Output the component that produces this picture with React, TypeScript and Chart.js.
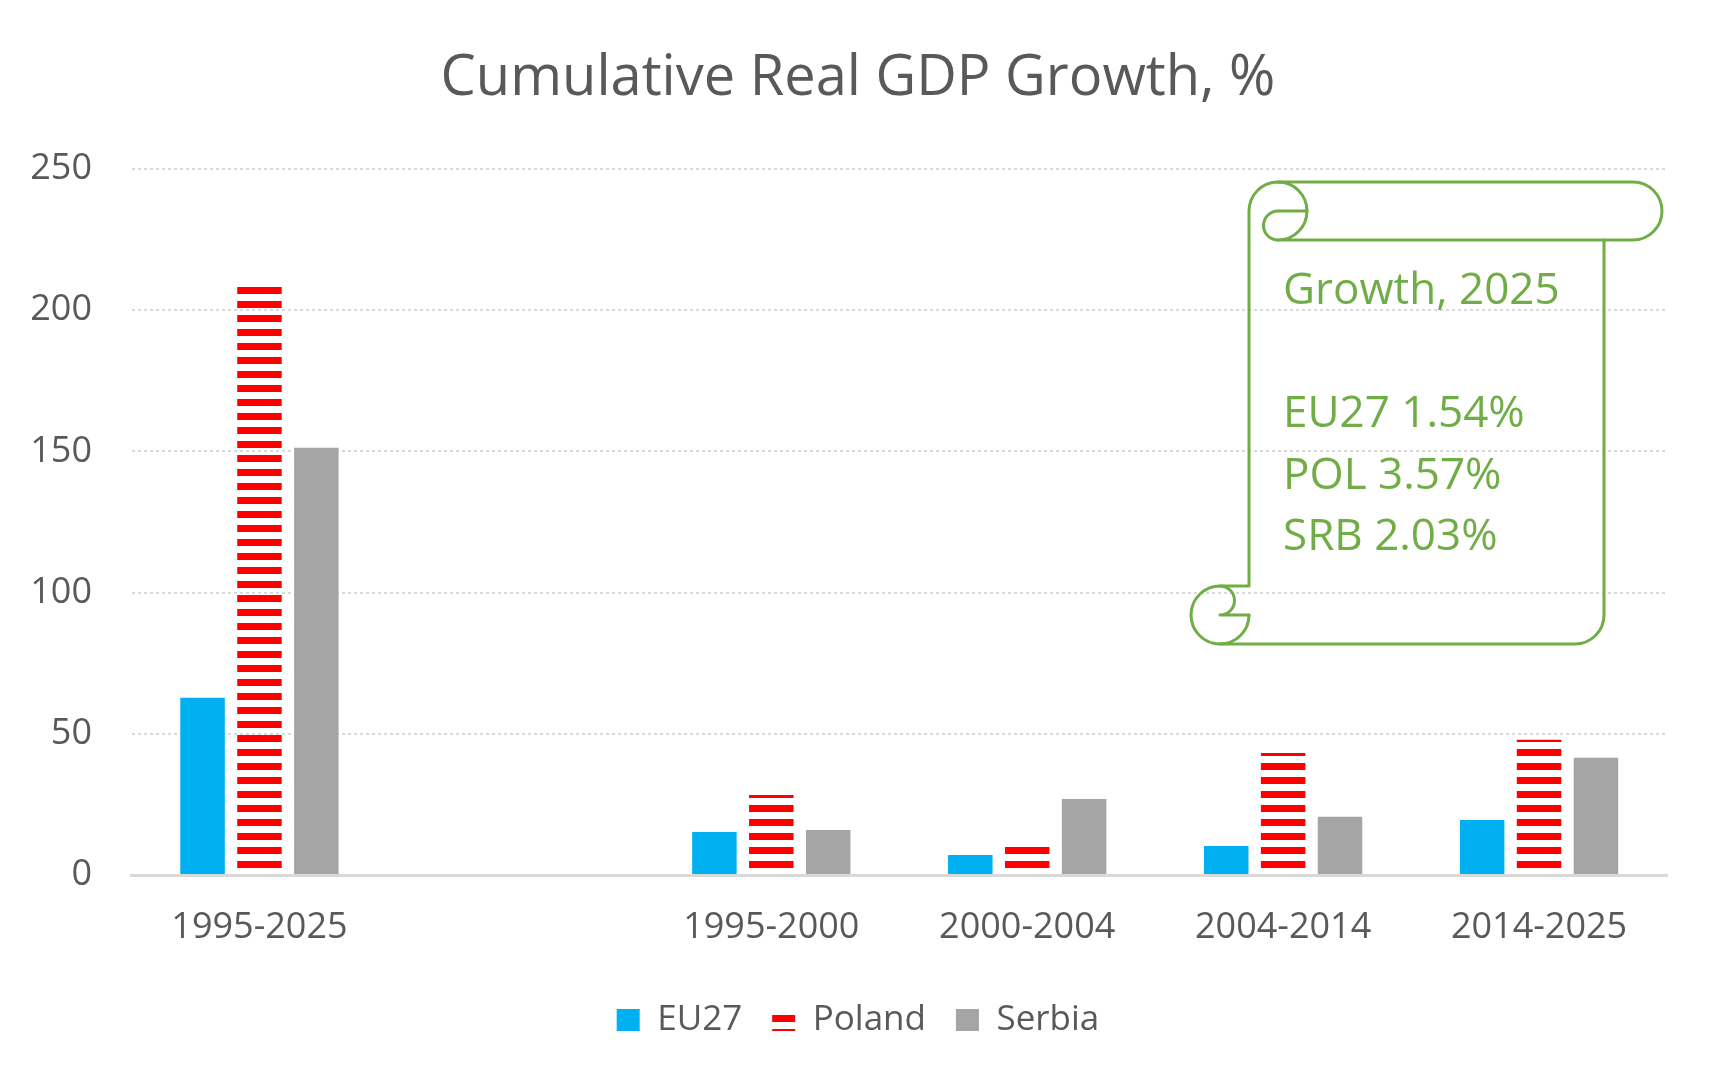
import React, { useEffect, useRef } from "react";
import { Chart, registerables } from "chart.js";

Chart.register(...registerables);

// ---- data ----
const categories = ["1995-2025", "", "1995-2000", "2000-2004", "2004-2014", "2014-2025"];
const seriesNames = ["EU27", "Poland", "Serbia"];
const eu27Values = [62.8, null, 15.2, 7.1, 10.3, 19.5];
const polandValues = [208.4, null, 28.3, 12.0, 43.2, 47.9];
const serbiaValues = [151.3, null, 15.9, 26.9, 20.6, 41.5];
const yTickValues = [0, 50, 100, 150, 200, 250];
const titleText = "Cumulative Real GDP Growth, %";
const noteLines = ["Growth, 2025", "", "EU27 1.54%", "POL 3.57%", "SRB 2.03%"];

// ---- styles ----
const FONT = "'Open Sans', 'Noto Sans', sans-serif";
const TEXT_GREY = "#595959";
const GRID_GREY = "#D9D9D9";
const EU_BLUE = "#00B0F0";
const POL_RED = "#FF0000";
const SRB_GREY = "#A5A5A5";
const NOTE_GREEN = "#70AD47";

const scrollPlugin = {
  id: "scrollNote",
  afterDatasetsDraw(chart: any) {
    const { ctx, chartArea: ca } = chart;
    const r = 29;
    const L = ca.left + 1059.5;
    const R = ca.right - 5;
    const T = ca.top + 13;
    const B = ca.top + 475;
    ctx.save();
    ctx.strokeStyle = NOTE_GREEN;
    ctx.lineWidth = 3;
    ctx.lineJoin = "round";
    ctx.lineCap = "round";

    // main outline
    ctx.beginPath();
    ctx.moveTo(L + 2 * r, T + r);
    ctx.arc(L + 3 * r, T + r, r, Math.PI, 1.5 * Math.PI, false);
    ctx.lineTo(R - r, T);
    ctx.arc(R - r, T + r, r, -0.5 * Math.PI, 0.5 * Math.PI, false);
    ctx.lineTo(R - 2 * r, T + 2 * r);
    ctx.lineTo(R - 2 * r, B - r);
    ctx.arc(R - 3 * r, B - r, r, 0, 0.5 * Math.PI, false);
    ctx.lineTo(L + r, B);
    ctx.arc(L + r, B - r, r, 0.5 * Math.PI, 1.5 * Math.PI, false);
    ctx.lineTo(L + 2 * r, B - 2 * r);
    ctx.lineTo(L + 2 * r, T + r);
    ctx.stroke();

    // top roll detail
    ctx.beginPath();
    ctx.arc(L + 3 * r, T + r, r, -0.5 * Math.PI, 0.5 * Math.PI, false);
    ctx.lineTo(R - 2 * r, T + 2 * r);
    ctx.stroke();
    ctx.beginPath();
    ctx.moveTo(L + 4 * r, T + r);
    ctx.lineTo(L + 3 * r, T + r);
    ctx.arc(L + 3 * r, T + 1.5 * r, r / 2, -0.5 * Math.PI, 0.5 * Math.PI, true);
    ctx.stroke();

    // bottom roll detail
    ctx.beginPath();
    ctx.arc(L + r, B - r, r, 0, 0.5 * Math.PI, false);
    ctx.stroke();
    ctx.beginPath();
    ctx.moveTo(L + r, B - 2 * r);
    ctx.arc(L + r, B - 1.5 * r, r / 2, -0.5 * Math.PI, 0.5 * Math.PI, false);
    ctx.lineTo(L + 2 * r, B - r);
    ctx.stroke();

    // note text
    ctx.fillStyle = NOTE_GREEN;
    ctx.font = `44px ${FONT}`;
    ctx.textAlign = "left";
    ctx.textBaseline = "alphabetic";
    noteLines.forEach((line, i) => {
      if (line) ctx.fillText(line, L + 92, T + 122 + i * 61.5);
    });
    ctx.restore();
  },
};

export default function App() {
  const canvasRef = useRef<HTMLCanvasElement>(null);

  useEffect(() => {
    document.body.style.margin = "0";
    const canvas = canvasRef.current!;
    const ctx = canvas.getContext("2d")!;

    const pc = document.createElement("canvas");
    pc.width = 8;
    pc.height = 14;
    const pctx = pc.getContext("2d")!;
    pctx.fillStyle = POL_RED;
    pctx.fillRect(0, 0, 8, 7);
    const stripes = ctx.createPattern(pc, "repeat")!;
    stripes.setTransform(new DOMMatrix().translate(0, 7));

    Chart.defaults.font.family = FONT;

    const chart = new Chart(canvas, {
      type: "bar",
      data: {
        labels: categories,
        datasets: [
          { label: seriesNames[0], data: eu27Values, backgroundColor: EU_BLUE, borderWidth: 0 },
          { label: seriesNames[1], data: polandValues, backgroundColor: stripes as any, borderWidth: 0 },
          { label: seriesNames[2], data: serbiaValues, backgroundColor: SRB_GREY, borderWidth: 0 },
        ],
      },
      options: {
        responsive: false,
        animation: false,
        events: [],
        datasets: { bar: { categoryPercentage: 0.667, barPercentage: 0.782 } },
        layout: { padding: { left: 30, right: 30, top: 0, bottom: 38.5 } },
        plugins: {
          title: {
            display: true,
            text: titleText,
            color: TEXT_GREY,
            font: { size: 56, weight: "normal", lineHeight: 1.2 },
            padding: { top: 45.4, bottom: 56.4 },
          },
          legend: {
            position: "bottom",
            labels: {
              boxWidth: 23,
              boxHeight: 22,
              padding: 30,
              color: TEXT_GREY,
              font: { size: 35 },
            },
          },
          tooltip: { enabled: false },
        },
        scales: {
          x: {
            afterFit: (s: any) => {
              s.height = 97.5;
            },
            grid: { display: false, drawTicks: false },
            border: { display: true, color: GRID_GREY, width: 3 },
            ticks: { color: TEXT_GREY, font: { size: 36 }, padding: 31, maxRotation: 0, autoSkip: false },
          },
          y: {
            min: yTickValues[0],
            max: yTickValues[yTickValues.length - 1],
            afterFit: (s: any) => {
              s.width = 101.5;
            },
            grid: { color: GRID_GREY, lineWidth: 2, drawTicks: false },
            border: { display: false, dash: [3, 3] },
            ticks: {
              stepSize: yTickValues[1] - yTickValues[0],
              color: TEXT_GREY,
              font: { size: 36 },
              padding: 39.5,
            },
          },
          // empty right-hand spacer so the title and legend centre on the page
          spacer: {
            type: "linear",
            position: "right",
            afterFit: (s: any) => {
              s.width = 19;
            },
            grid: { display: false, drawTicks: false },
            border: { display: false },
            ticks: { display: false },
          },
        },
      },
      plugins: [scrollPlugin],
    });

    return () => chart.destroy();
  }, []);

  return (
    <div style={{ width: 1716, height: 1086, background: "#ffffff" }}>
      <canvas ref={canvasRef} width={1716} height={1086} style={{ display: "block" }} />
    </div>
  );
}
